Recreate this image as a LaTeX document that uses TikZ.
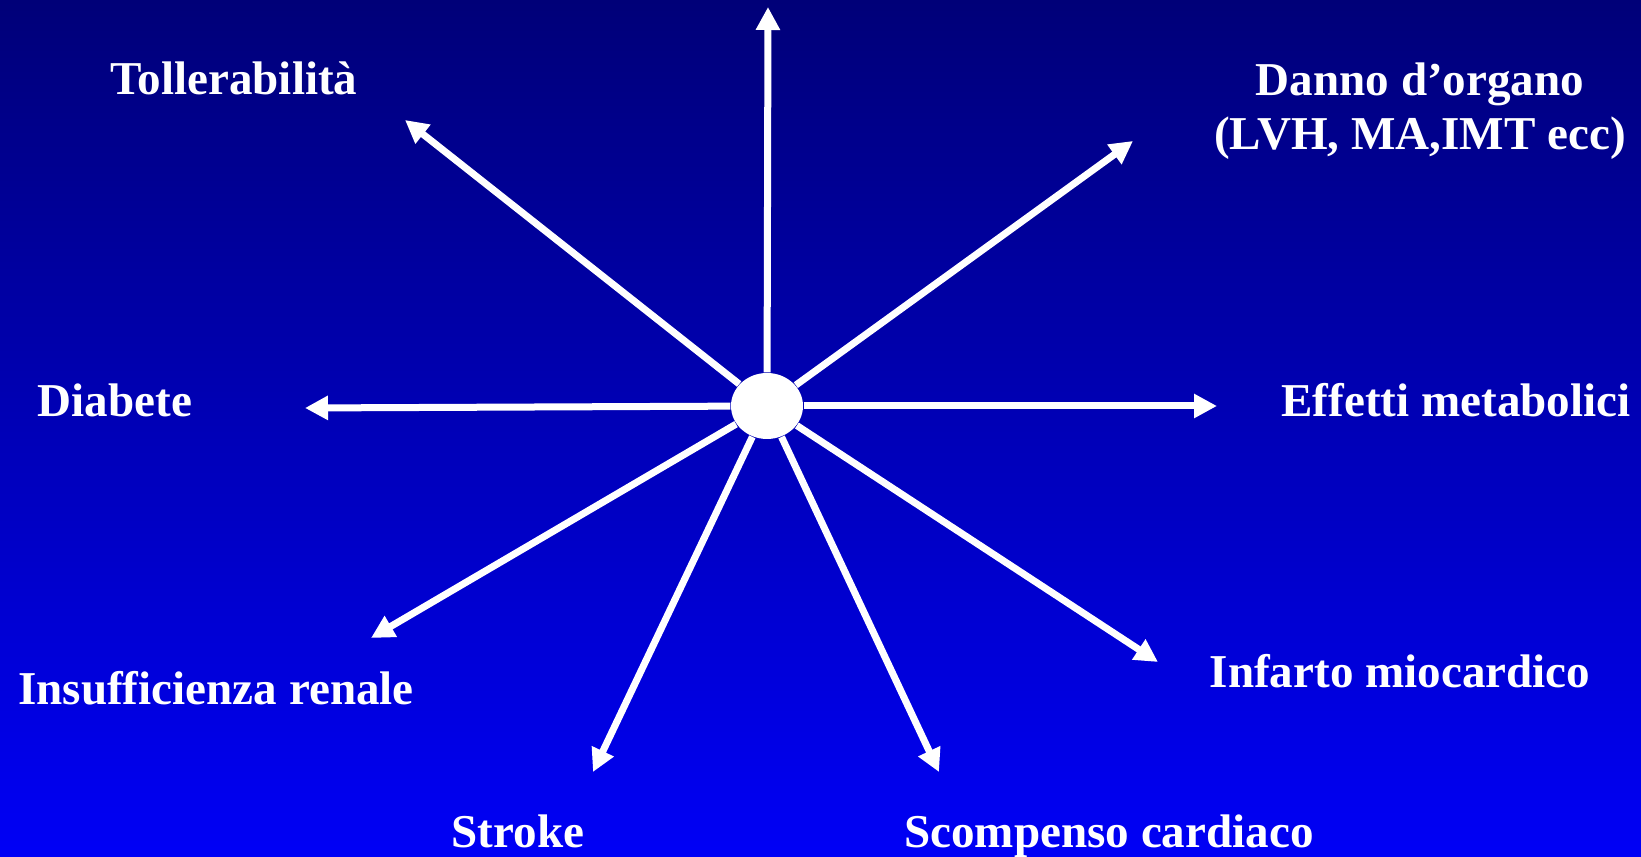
\documentclass[tikz,border=0pt]{standalone}
\usepackage{fontspec}
\setmainfont{Liberation Serif}
\usetikzlibrary{arrows.meta,shapes.geometric}
\definecolor{navytop}{RGB}{0,0,120}
\definecolor{bluebottom}{RGB}{0,0,246}
\begin{document}
\begin{tikzpicture}[
  lbl/.style={text=white, font=\fontsize{13.4}{15.6}\selectfont\bfseries, anchor=base, inner sep=0pt},
  spoke/.style={white, line width=0.07cm, -{Triangle[length=0.23cm, width=0.23cm]}}]
\useasboundingbox (0,0) rectangle (16.41,8.57);
\shade[top color=navytop, bottom color=bluebottom] (0,0) rectangle (16.41,8.57);
\node[ellipse, fill=white, minimum width=0.72cm, minimum height=0.66cm, inner sep=0pt] (hub) at (7.67,4.51) {};
\foreach \name/\x/\y in {up/7.68/8.50, toll/4.05/7.37, danno/11.33/7.16, effetti/12.17/4.51,
  diab/3.05/4.49, insuff/3.71/2.19, stroke/5.93/0.85, scomp/9.39/0.85, infarto/11.58/1.95}
  \coordinate (\name-tip) at (\x,\y);
\foreach \name in {up, toll, danno, effetti, diab, insuff, stroke, scomp, infarto}
  \draw[spoke] (hub) -- (\name-tip);
\node[lbl] (toll) at (2.34,7.62) {Tollerabilità};
\node[lbl, align=center] (danno) at (14.20,7.07) {Danno d’organo\\(LVH, MA,IMT ecc)};
\node[lbl] (diab) at (1.15,4.40) {Diabete};
\node[lbl] (effetti) at (14.56,4.40) {Effetti metabolici};
\node[lbl] (insuff) at (2.16,1.52) {Insufficienza renale};
\node[lbl] (infarto) at (14.00,1.69) {Infarto miocardico};
\node[lbl] (stroke) at (5.18,0.09) {Stroke};
\node[lbl] (scomp) at (11.09,0.09) {Scompenso cardiaco};
\end{tikzpicture}
\end{document}
